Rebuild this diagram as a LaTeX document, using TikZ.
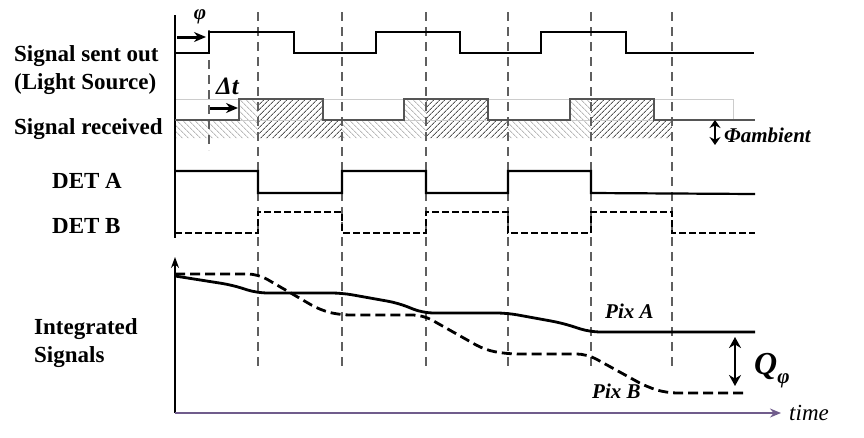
\documentclass[tikz,border=0pt]{standalone}
\usepackage{fontspec}
\setmainfont{Liberation Serif}
\usetikzlibrary{arrows.meta, patterns.meta}
\definecolor{guidegray}{RGB}{95,95,95}
\definecolor{rcvgray}{RGB}{85,85,85}
\definecolor{axispurple}{RGB}{112,92,140}

\begin{document}
\begin{tikzpicture}[x=1pt, y=-1pt,
  lbl/.style={font=\bfseries\fontsize{23}{27}\selectfont, inner sep=0pt, anchor=base west},
  tag/.style={font=\bfseries\itshape\fontsize{21}{25}\selectfont, inner sep=0pt, anchor=base west},
  guide/.style={guidegray, line width=1.8pt, dash pattern=on 9pt off 6pt},
  wave/.style={line width=2.8pt},
  tip/.style={-{Stealth[length=12pt,width=10pt]}, line width=3pt}]
\useasboundingbox (0,0) rectangle (864,437);
% Labels on the left
\node[lbl] (sent) at (14,61) {Signal sent out};
\node[lbl] (source) at (14,89) {(Light Source)};
\node[lbl] (recv) at (14,134) {Signal received};
\node[lbl] (deta) at (52,188) {DET A};
\node[lbl] (detb) at (52,233) {DET B};
\node[lbl] (integ) at (34,334) {Integrated};
\node[lbl] (sigs) at (34,362) {Signals};
% Hatched areas under the received signal
\begin{scope}
\clip (175,138) -- (175,120) -- (239,120) -- (239,99) -- (323,99) -- (323,120)
  -- (404,120) -- (404,99) -- (488,99) -- (488,120) -- (570,120) -- (570,99)
  -- (654,99) -- (654,120) -- (672,120) -- (672,138) -- cycle;
\fill[pattern={Lines[angle=-45,distance=4pt,line width=0.9pt]}, pattern color=gray!55] (175,95) rectangle (672,138);
\foreach \a/\b in {258/342, 426/508, 591/672} {
  \fill[white] (\a,95) rectangle (\b,138);
  \fill[pattern={Lines[angle=45,distance=4pt,line width=1pt]}, pattern color=rcvgray] (\a,95) rectangle (\b,138);
}
\end{scope}
% Light box of the received level
\draw[gray!40, line width=0.8pt] (175,99) rectangle (733,120);
% Dashed time marks
\draw[guide] (209,30) -- (209,150);
\foreach \x in {258,342,426,508,591,672}
  \draw[guide] (\x,12) -- (\x,368);
% Axes
\draw[line width=1.2pt] (175,15) -- (175,238);
\draw[line width=1.2pt, -{Stealth[length=11pt,width=8pt]}] (175,413) -- (175,257);
\draw[axispurple, line width=1.6pt, -{Stealth[length=11pt,width=9pt]}] (175,413) -- (781,413) coordinate (tend);
\node[font=\itshape\fontsize{23}{27}\selectfont, inner sep=0pt, anchor=base west] (time) at (789,420) {time};
% Signal sent out
\draw[wave] (175,53) -- (209,53) -- (209,32) -- (294,32) -- (294,53) -- (376,53) -- (376,32)
  -- (460,32) -- (460,53) -- (541,53) -- (541,32) -- (626,32) -- (626,53) -- (754,53);
\draw[tip] (177,37) -- (206,37);
\node[font=\bfseries\itshape\fontsize{21}{23}\selectfont, inner sep=0pt, anchor=base] (phi) at (200,19) {φ};
% Signal received
\draw[olive, line width=1.5pt] (209,120) -- (237,120);
\draw[rcvgray, wave] (175,120) -- (239,120) -- (239,99) -- (323,99) -- (323,120) -- (404,120)
  -- (404,99) -- (488,99) -- (488,120) -- (570,120) -- (570,99) -- (654,99) -- (654,120) -- (755,120);
\draw[tip] (210,108) -- (238,108);
\node[tag, font=\bfseries\itshape\fontsize{25}{29}\selectfont] (dt) at (216,94) {Δt};
\draw[{Stealth[length=8pt,width=11pt]}-{Stealth[length=8pt,width=11pt]}, line width=2.8pt] (715,120) -- (715,145);
\node[tag] (amb) at (724,142) {Φambient};
% Detector gates
\draw[line width=2.2pt] (175,171) -- (258,171) -- (258,193) -- (342,193) -- (342,171) -- (426,171)
  -- (426,193) -- (508,193) -- (508,171) -- (591,171) -- (591,193) -- (755,194);
\draw[line width=2.2pt, dash pattern=on 7pt off 3pt] (175,233) -- (258,233) -- (258,212) -- (342,212)
  -- (342,233) -- (426,233) -- (426,212) -- (508,212) -- (508,233) -- (591,233) -- (591,212)
  -- (672,212) -- (672,233) -- (755,233);
% Integrated signals
\draw[wave, rounded corners=10pt] (175,276) -- (232,285) -- (257,293) -- (342,293) -- (398,303)
  -- (423,313) -- (507,313) -- (562,323) -- (590,332) -- (755,332);
\draw[wave, rounded corners=10pt, dash pattern=on 10pt off 5pt] (175,274) -- (258,274) -- (320,310)
  -- (340,315) -- (423,315) -- (485,350) -- (508,354) -- (587,354) -- (647,387) -- (667,393) -- (747,393);
\node[tag] (pixa) at (605,318) {Pix A};
\node[tag] (pixb) at (592,398) {Pix B};
\draw[{Stealth[length=11pt,width=12pt]}-{Stealth[length=11pt,width=12pt]}, line width=2.5pt] (735,337) -- (735,386);
\node[tag, font=\bfseries\itshape\fontsize{32}{36}\selectfont] (q) at (754,374) {Q\raisebox{-0.3em}{\fontsize{21}{21}\selectfont φ}};
\end{tikzpicture}
\end{document}
